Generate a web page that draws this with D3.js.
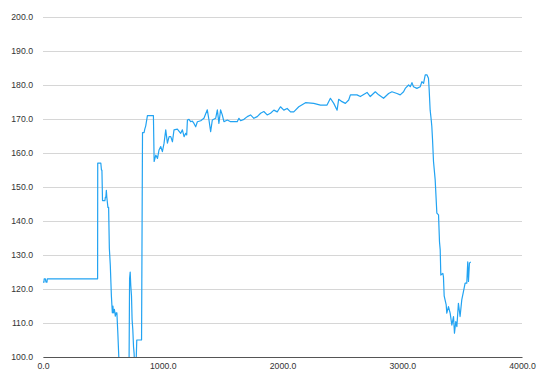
<!DOCTYPE html>
<html>
<head>
<meta charset="utf-8">
<script src="https://cdn.jsdelivr.net/npm/d3@7"></script>
<style>
  body { margin: 0; background: #fff; }
  svg { display: block; font-family: "Liberation Sans", Arial, sans-serif; }
</style>
</head>
<body>
<div class="container"></div>
<script>
// x positions of the samples
const xs = [0, 8, 10, 20, 25, 33, 36, 456, 457, 483, 488, 492, 497, 517, 521, 525, 529, 533, 542, 548,
  554, 562, 571, 579, 584, 588, 596, 604, 610, 617, 625, 633, 640, 718, 723, 728, 733, 739, 744, 750,
  756, 761, 767, 775, 783, 823, 831, 844, 850, 858, 872, 922, 928, 942, 956, 969, 983, 997, 1011, 1025,
  1039, 1053, 1067, 1081, 1094, 1122, 1150, 1164, 1178, 1192, 1200, 1206, 1219, 1233, 1247, 1261, 1275, 1289, 1317, 1344,
  1372, 1386, 1400, 1414, 1442, 1456, 1469, 1483, 1497, 1511, 1539, 1567, 1622, 1636, 1650, 1678, 1706, 1733, 1761, 1789,
  1817, 1844, 1872, 1900, 1928, 1956, 1983, 2011, 2039, 2067, 2094, 2136, 2192, 2261, 2317, 2372, 2400, 2428, 2456, 2469,
  2497, 2525, 2553, 2567, 2622, 2650, 2706, 2733, 2775, 2803, 2844, 2886, 2914, 2956, 2983, 3011, 3025, 3053, 3067, 3081,
  3094, 3122, 3150, 3164, 3178, 3192, 3206, 3219, 3225, 3233, 3242, 3247, 3253, 3261, 3275, 3289, 3303, 3311, 3317, 3322,
  3339, 3344, 3350, 3367, 3372, 3386, 3400, 3414, 3428, 3436, 3447, 3456, 3469, 3483, 3497, 3511, 3525, 3539, 3547, 3553,
  3561, 3572];

// y values of the samples
const ys = [122, 122, 123, 123, 122, 122, 123, 123, 157, 157, 155, 155, 146, 146, 147, 147, 149, 147, 144, 144,
  132, 127, 118, 113, 115, 113, 114, 112, 113, 113, 107, 100, 94, 94, 123, 125, 121, 118, 111, 108,
  103, 101, 95, 95, 105, 105, 166, 166, 167, 168, 171, 171, 157.5, 159.4, 158.4, 160.9, 161.9, 160.4, 162.9, 166.8,
  162.9, 164.8, 164.8, 163.3, 166.8, 167, 165.8, 166.8, 164.8, 165.8, 165.3, 169.7, 169.9, 169.2, 169.4, 168.7, 167.7, 169.2, 169.5, 170.2,
  172.7, 169.7, 166.3, 169.7, 170.2, 172.7, 168.7, 172.7, 171.2, 169.2, 169.7, 169.2, 169.2, 170.2, 169.5, 169.9, 170.7, 171.2, 170.2, 170.7,
  171.7, 172.2, 171.2, 171.7, 172.6, 172.1, 173.6, 172.6, 173.1, 172.1, 172.1, 173.6, 174.8, 174.6, 174.1, 174.1, 176.1, 174.6, 172.6, 175.8,
  175.1, 174.6, 175.6, 177.1, 177.1, 176.6, 177.8, 176.6, 178.0, 177.1, 176.1, 177.5, 178.0, 177.5, 177.1, 178.0, 179.0, 180.0, 179.5, 180.7,
  179.5, 179.0, 179.5, 181.0, 180.5, 183.0, 183.0, 182.0, 178.5, 172.6, 169.7, 167.8, 163.8, 157.5, 152.1, 142.3, 141.8, 133.9, 131.5, 124.1,
  124.6, 123.6, 118.0, 115.3, 112.9, 114.8, 112.9, 109.4, 111.9, 107.0, 110.4, 108.9, 115.8, 111.9, 116.8, 119.2, 121.7, 121.7, 128.0, 122.2,
  127.6, 128.0];

const xTicks = [0, 1000, 2000, 3000, 4000];
const yTicks = [100, 110, 120, 130, 140, 150, 160, 170, 180, 190, 200];

const w = 546;
const h = 379;

const xScale = d3.scaleLinear().domain([0, 4000]).range([43, 522]);
const yScale = d3.scaleLinear().domain([100, 200]).range([357, 17]);

const svg = d3.select(".container")
  .append("svg")
  .attr("width", w)
  .attr("height", h);

/* horizontal grid + y labels */
const yAxis = d3.axisLeft(yScale)
  .tickValues(yTicks)
  .tickFormat(d3.format(".1f"))
  .tickSize(-(522 - 43))
  .tickPadding(10);

const gy = svg.append("g")
  .attr("transform", "translate(43,0)")
  .call(yAxis);
gy.select(".domain").remove();
gy.selectAll(".tick line")
  .attr("stroke", "#d6d6d6")
  .attr("stroke-width", 1.2);
gy.selectAll(".tick text")
  .attr("fill", "#333")
  .style("font-size", "8.7px");

/* x axis along the bottom */
const xAxis = d3.axisBottom(xScale)
  .tickValues(xTicks)
  .tickFormat(d3.format(".1f"))
  .tickSize(0)
  .tickPadding(6.3);

const gx = svg.append("g")
  .attr("transform", "translate(0,357)")
  .call(xAxis);
gx.select(".domain")
  .attr("stroke", "#555")
  .attr("stroke-width", 1.2);
gx.selectAll(".tick text")
  .attr("fill", "#333")
  .style("font-size", "8.7px");

// clip to plot area (data dips below 100)
svg.append("clipPath")
  .attr("id", "plot-clip")
  .append("rect")
  .attr("x", 43)
  .attr("y", 17)
  .attr("width", 522 - 43)
  .attr("height", 357 - 17);

const points = xs.map((x, i) => [x, ys[i]]);

const line = d3.line()
  .x(d => xScale(d[0]))
  .y(d => yScale(d[1]));

svg.append("path")
  .datum(points)
  .attr("clip-path", "url(#plot-clip)")
  .attr("fill", "none")
  .attr("stroke", "#22a3f2")
  .attr("stroke-width", 1.2)
  .attr("stroke-linejoin", "round")
  .attr("d", line);

// redraw the axis line on top of the series
gx.raise();
</script>
</body>
</html>
